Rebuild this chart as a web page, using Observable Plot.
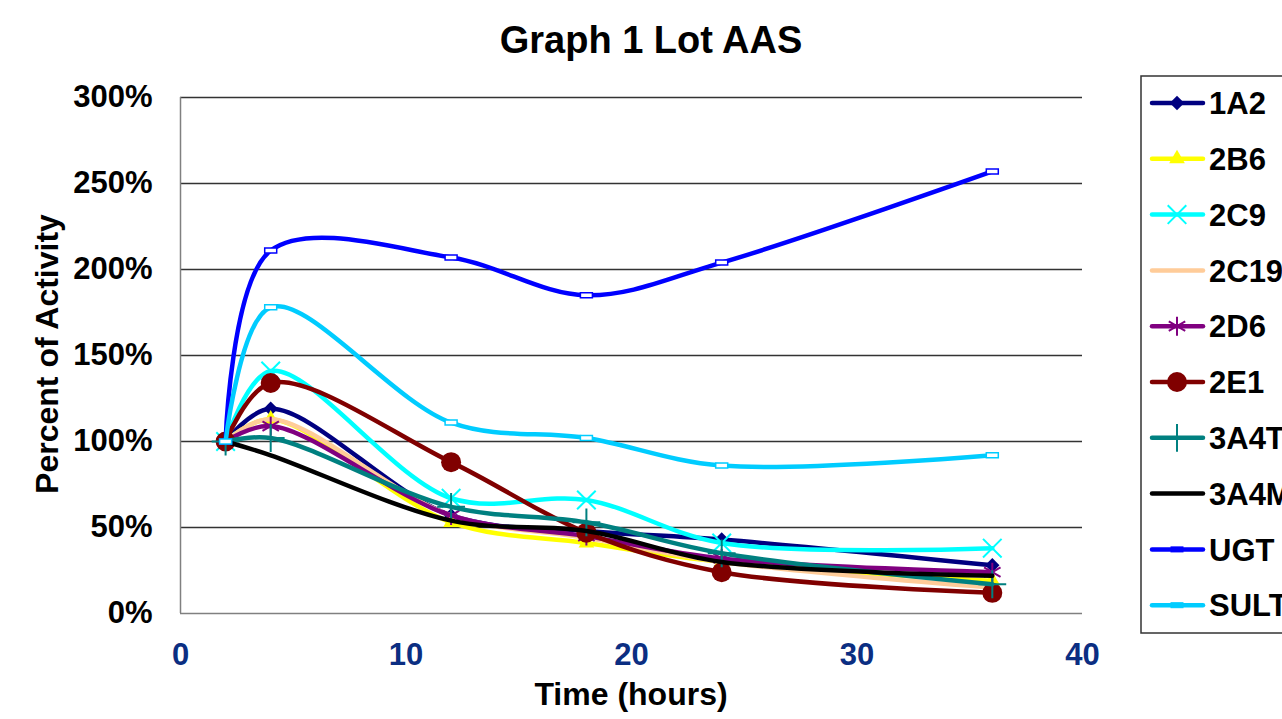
<!DOCTYPE html>
<html>
<head>
<meta charset="utf-8">
<script src="https://cdn.jsdelivr.net/npm/d3@7"></script>
<script src="https://cdn.jsdelivr.net/npm/@observablehq/plot@0.6"></script>
<style>
  html, body { margin: 0; padding: 0; background: #fff; }
  #wrap { position: relative; width: 1282px; height: 719px; overflow: hidden; font-family: "Liberation Sans", Arial, sans-serif; }
  #title { position: absolute; left: 10px; top: 19px; width: 1282px; text-align: center; font-size: 38px; font-weight: bold; color: #000; line-height: 1.15; }
  #chart { position: absolute; left: 0; top: 70px; }
  #xlabel { position: absolute; left: 180px; width: 902px; top: 676px; text-align: center; font-size: 32px; font-weight: bold; line-height: 1.15; }
  #ylabel { position: absolute; left: 47px; top: 354px; transform: translate(-50%, -50%) rotate(-90deg); white-space: nowrap; font-size: 32px; font-weight: bold; }
  #legend { position: absolute; left: 0; top: 0; }
</style>
</head>
<body>
<div id="wrap">
  <div id="title">Graph 1 Lot AAS</div>
  <div id="chart"></div>
  <div id="xlabel">Time (hours)</div>
  <div id="ylabel">Percent of Activity</div>
  <svg id="legend" width="1282" height="719"></svg>
</div>
<script>
// ---- data ----
const hours = [2, 4, 12, 18, 24, 36];
const seriesNames = ["1A2", "2B6", "2C9", "2C19", "2D6", "2E1", "3A4T", "3A4M", "UGT", "SULT"];
const v1A2  = [100, 119, 57, 48, 43, 28];
const v2B6  = [100, 113, 53, 41, 30, 19];
const v2C9  = [100, 141, 67, 66, 41, 38];
const v2C19 = [100, 113, 57, 44, 30, 15];
const v2D6  = [100, 109, 57, 45, 32, 24];
const v2E1  = [100, 134, 88, 47, 24, 12];
const v3A4T = [100, 102, 62, 53, 35, 17];
const v3A4M = [100, 92, 54, 48, 30, 22];
const vUGT  = [100, 211, 207, 185, 204, 257];
const vSULT = [100, 178, 111, 102, 86, 92];
const seriesValues = [v1A2, v2B6, v2C9, v2C19, v2D6, v2E1, v3A4T, v3A4M, vUGT, vSULT];
const colors = ["#000080", "#FFFF00", "#00FFFF", "#FFCC99", "#800080", "#800000", "#008080", "#000000", "#0000FF", "#00CCFF"];
const markers = ["diamond2", "triangle2", "times", null, "asterisk", "circle", "plus", null, "dash", "dash"];
const yTicks = [0, 50, 100, 150, 200, 250, 300];
const xTicks = [0, 10, 20, 30, 40];

// ---- build ----
const dashSym = { draw(ctx) { ctx.rect(-6, -2.5, 12, 5); } };
const markerR = { diamond2: 6.5, triangle2: 7.5, times: 8.5, asterisk: 9, circle: 10, plus: 9 };
const strokeMarkers = new Set(["times", "asterisk", "plus"]);

const marks = [];
marks.push(Plot.ruleY(yTicks.filter(t => t > 0), { stroke: "#333", strokeWidth: 1.3 }));
marks.push(Plot.ruleX([0], { stroke: "#808080", strokeWidth: 1.5 }));
marks.push(Plot.ruleY([0], { stroke: "#808080", strokeWidth: 1.5 }));

seriesNames.forEach((name, i) => {
  const rows = hours.map((h, j) => ({ series: name, hours: h, value: seriesValues[i][j] }));
  marks.push(Plot.line(rows, { x: "hours", y: "value", stroke: colors[i], strokeWidth: 4.5, curve: "catmull-rom" }));
  const m = markers[i];
  if (m === "dash") {
    marks.push(Plot.dot(rows, { x: "hours", y: "value", symbol: dashSym, r: 4, fill: "white", stroke: colors[i], strokeWidth: 1.5 }));
  } else if (m && strokeMarkers.has(m)) {
    marks.push(Plot.dot(rows, { x: "hours", y: "value", symbol: m, r: markerR[m], stroke: colors[i], strokeWidth: 2, fill: "none" }));
  } else if (m) {
    marks.push(Plot.dot(rows, { x: "hours", y: "value", symbol: m, r: markerR[m], fill: colors[i], stroke: "none" }));
  }
});

marks.push(Plot.axisY({ ticks: yTicks, tickSize: 0, tickPadding: 28, tickFormat: d => d + "%", label: null }));
marks.push(Plot.axisX({ ticks: xTicks, tickSize: 0, tickPadding: 29, label: null, color: "#0B2E82" }));

const chart = Plot.plot({
  width: 1282,
  height: 649,
  marginLeft: 180,
  marginRight: 200,
  marginTop: 27,
  marginBottom: 106,
  x: { domain: [0, 40] },
  y: { domain: [0, 300] },
  style: { fontFamily: "'Liberation Sans', Arial, sans-serif", fontSize: "31px", fontWeight: "bold", background: "white", color: "#000", overflow: "visible" },
  marks
});
document.getElementById("chart").appendChild(chart);

// ---- legend ----
const lg = d3.select("#legend");
lg.append("rect").attr("x", 1141).attr("y", 76).attr("width", 200).attr("height", 557)
  .attr("fill", "white").attr("stroke", "#333").attr("stroke-width", 1.5);
const symTypes = { diamond2: d3.symbolDiamond2, triangle2: d3.symbolTriangle2, times: d3.symbolTimes, asterisk: d3.symbolAsterisk, circle: d3.symbolCircle, plus: d3.symbolPlus };
seriesNames.forEach((name, i) => {
  const y = 103 + i * 55.8;
  const g = lg.append("g");
  g.append("line").attr("x1", 1152).attr("x2", 1203).attr("y1", y).attr("y2", y)
    .attr("stroke", colors[i]).attr("stroke-width", 4.5).attr("stroke-linecap", "round");
  const m = markers[i];
  if (m === "dash") {
    g.append("rect").attr("x", 1171).attr("y", y - 2.5).attr("width", 12).attr("height", 5)
      .attr("fill", colors[i]).attr("stroke", colors[i]).attr("stroke-width", 1);
  } else if (m) {
    const r = markerR[m];
    const p = d3.symbol(symTypes[m], Math.PI * r * r)();
    const s = g.append("path").attr("d", p).attr("transform", `translate(1177,${y})`);
    if (strokeMarkers.has(m)) s.attr("fill", "none").attr("stroke", colors[i]).attr("stroke-width", 2);
    else s.attr("fill", colors[i]);
  }
  g.append("text").attr("x", 1209).attr("y", y).attr("dy", "0.36em")
    .attr("font-family", "'Liberation Sans', Arial, sans-serif").attr("font-size", 31).attr("font-weight", "bold")
    .text(name);
});
</script>
</body>
</html>
